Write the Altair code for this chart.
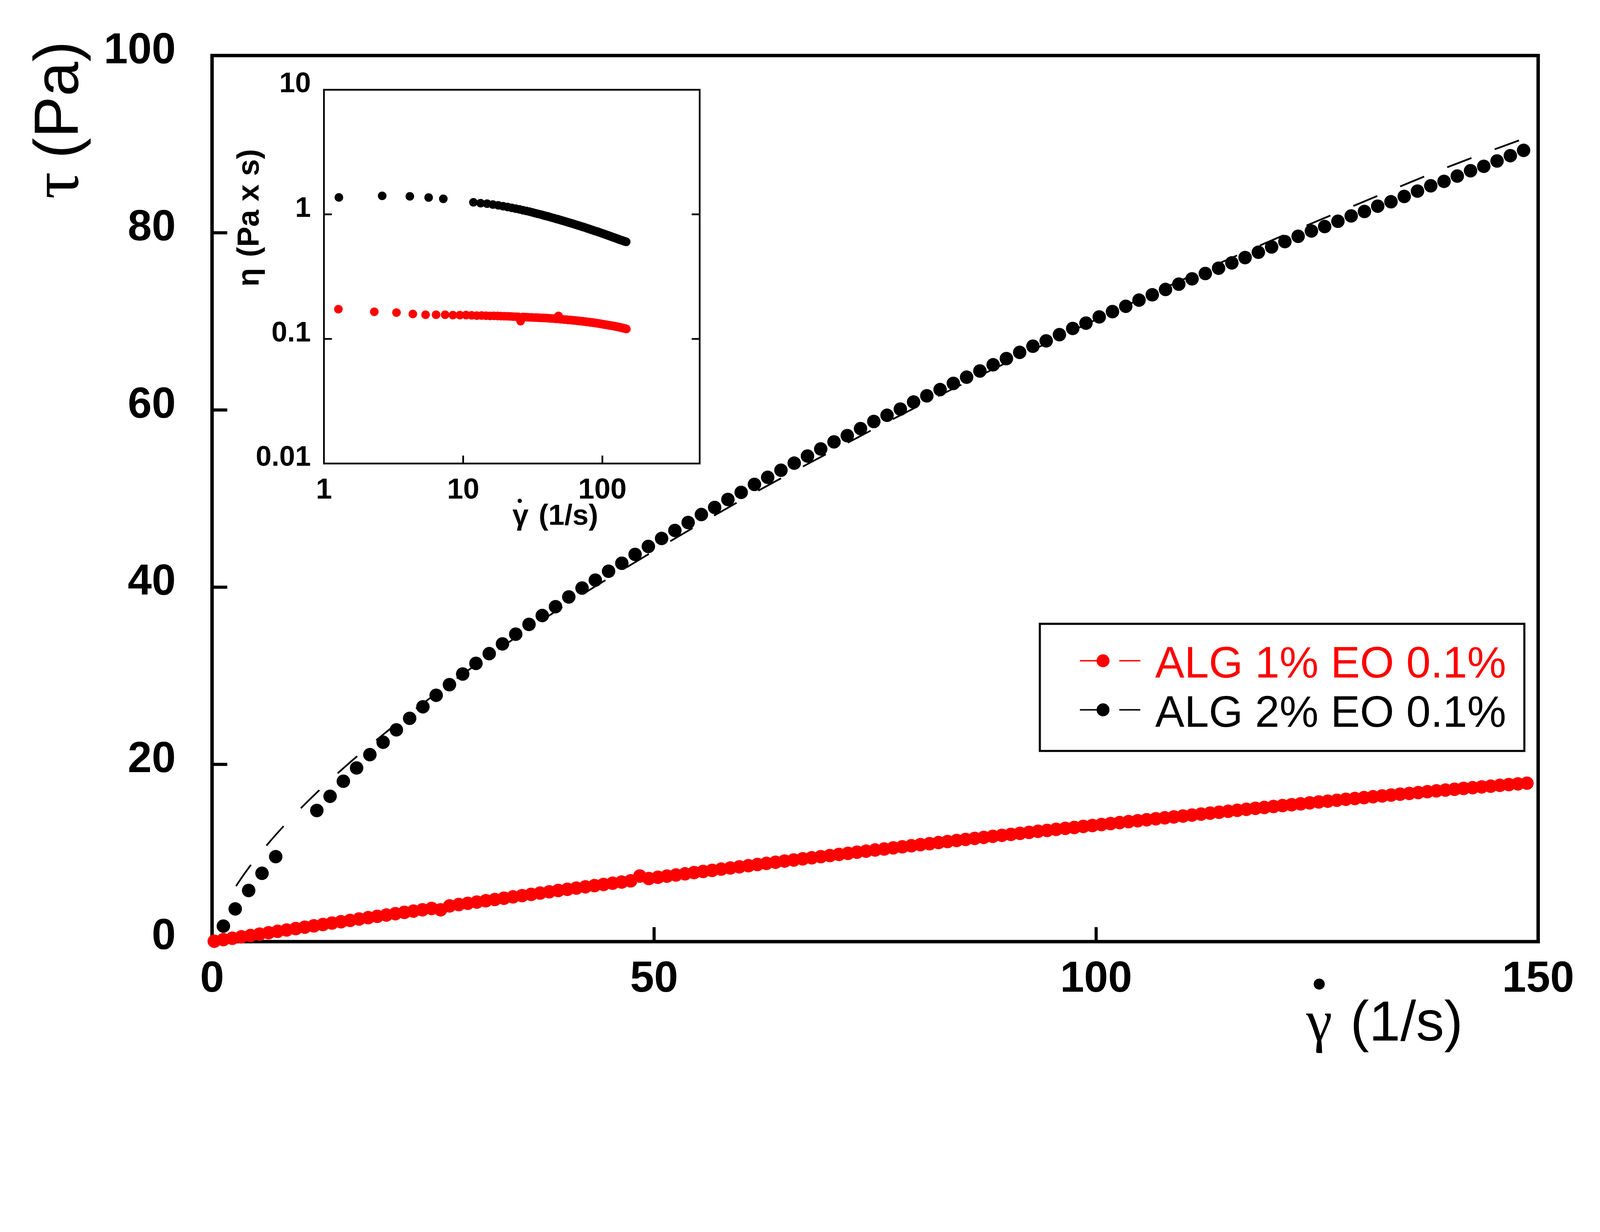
import altair as alt
import pandas as pd

# ---------------- data ----------------
black_rate = [1.28, 2.62, 4.14, 5.65, 7.20,
              11.85, 13.35, 14.85, 16.35, 17.85, 19.35, 20.85, 22.35, 23.85, 25.35, 26.85, 28.35, 29.85,
              31.35, 32.85, 34.35, 35.85, 37.35, 38.85, 40.35, 41.85, 43.35, 44.85,
              46.35, 47.85, 49.35, 50.85, 52.35, 53.85, 55.35, 56.85, 58.35, 59.85,
              61.35, 62.85, 64.35, 65.85, 67.35, 68.85, 70.35, 71.85, 73.35, 74.85,
              76.35, 77.85, 79.35, 80.85, 82.35, 83.85, 85.35, 86.85, 88.35, 89.85,
              91.35, 92.85, 94.35, 95.85, 97.35, 98.85, 100.35, 101.85, 103.35, 104.85,
              106.35, 107.85, 109.35, 110.85, 112.35, 113.85, 115.35, 116.85, 118.35, 119.85,
              121.35, 122.85, 124.35, 125.85, 127.35, 128.85, 130.35, 131.85, 133.35, 134.85,
              136.35, 137.85, 139.35, 140.85, 142.35, 143.85, 145.35, 146.85, 148.35]
black_stress = [1.75, 3.69, 5.77, 7.71, 9.59,
                14.8, 16.4, 18.1, 19.6, 21.1, 22.5, 23.9, 25.2, 26.5, 27.8, 29.0, 30.2, 31.4,
                32.5, 33.6, 34.7, 35.8, 36.8, 37.8, 38.9, 39.9, 40.8, 41.8,
                42.7, 43.7, 44.6, 45.5, 46.4, 47.3, 48.2, 49.0, 49.9, 50.7,
                51.6, 52.4, 53.2, 54.0, 54.8, 55.6, 56.4, 57.1, 57.9, 58.7,
                59.4, 60.1, 60.9, 61.6, 62.3, 63.0, 63.7, 64.4, 65.1, 65.8,
                66.5, 67.2, 67.8, 68.5, 69.2, 69.8, 70.5, 71.1, 71.7, 72.4,
                73.0, 73.6, 74.2, 74.8, 75.4, 76.0, 76.6, 77.2, 77.8, 78.4,
                79.0, 79.6, 80.2, 80.7, 81.3, 81.9, 82.4, 83.0, 83.5, 84.1,
                84.7, 85.3, 85.8, 86.4, 87.0, 87.5, 88.1, 88.7, 89.3]

fit_rate = [1.3, 2, 3, 4, 5, 6, 8, 10, 12.5, 15, 20, 25, 30, 40, 50, 60, 70, 80, 90, 100,
            110, 120, 130, 140, 150]
fit_stress = [3.83, 5.11, 6.70, 8.13, 9.44, 10.66, 12.93, 15.01, 17.44, 19.70, 23.89, 27.74,
              31.35, 38.0, 44.1, 49.9, 55.3, 60.5, 65.4, 70.2, 74.8, 79.2, 83.4, 87.5, 91.2]

red_rate = [0.25, 1.27, 2.30, 3.32, 4.35, 5.37, 6.39, 7.42, 8.44, 9.47,
            10.49, 11.51, 12.54, 13.56, 14.59, 15.61, 16.63, 17.66, 18.68, 19.71,
            20.73, 21.75, 22.78, 23.80, 24.83, 25.85, 26.87, 27.90, 28.92, 29.95,
            30.97, 31.99, 33.02, 34.04, 35.07, 36.09, 37.11, 38.14, 39.16, 40.19,
            41.21, 42.23, 43.26, 44.28, 45.31, 46.33, 47.35, 48.38, 49.40, 50.43,
            51.45, 52.47, 53.50, 54.52, 55.55, 56.57, 57.59, 58.62, 59.64, 60.67,
            61.69, 62.71, 63.74, 64.76, 65.79, 66.81, 67.83, 68.86, 69.88, 70.91,
            71.93, 72.95, 73.98, 75.00, 76.03, 77.05, 78.07, 79.10, 80.12, 81.15,
            82.17, 83.19, 84.22, 85.24, 86.27, 87.29, 88.31, 89.34, 90.36, 91.39,
            92.41, 93.43, 94.46, 95.48, 96.51, 97.53, 98.55, 99.58, 100.60, 101.63,
            102.65, 103.67, 104.70, 105.72, 106.75, 107.77, 108.79, 109.82, 110.84, 111.87,
            112.89, 113.91, 114.94, 115.96, 116.99, 118.01, 119.03, 120.06, 121.08, 122.11,
            123.13, 124.15, 125.18, 126.20, 127.23, 128.25, 129.27, 130.30, 131.32, 132.35,
            133.37, 134.39, 135.42, 136.44, 137.47, 138.49, 139.51, 140.54, 141.56, 142.59,
            143.61, 144.63, 145.66, 146.68, 147.71, 148.73]
red_stress = [0.04, 0.22, 0.38, 0.54, 0.69, 0.84, 1.00, 1.16, 1.31, 1.47,
              1.63, 1.78, 1.93, 2.09, 2.24, 2.39, 2.55, 2.70, 2.85, 3.00,
              3.15, 3.30, 3.44, 3.59, 3.74, 3.59, 4.03, 4.18, 4.32, 4.46,
              4.61, 4.75, 4.90, 5.05, 5.19, 5.33, 5.48, 5.62, 5.77, 5.90,
              6.04, 6.18, 6.32, 6.45, 6.59, 6.72, 6.86, 7.40, 7.12, 7.26,
              7.39, 7.52, 7.65, 7.79, 7.92, 8.04, 8.18, 8.31, 8.44, 8.57,
              8.70, 8.83, 8.96, 9.09, 9.21, 9.34, 9.46, 9.59, 9.71, 9.84,
              9.96, 10.09, 10.21, 10.34, 10.45, 10.58, 10.70, 10.82, 10.94, 11.05,
              11.18, 11.29, 11.41, 11.53, 11.65, 11.76, 11.88, 11.99, 12.10, 12.22,
              12.33, 12.45, 12.55, 12.67, 12.78, 12.88, 13.00, 13.10, 13.21, 13.32,
              13.43, 13.54, 13.64, 13.75, 13.86, 13.97, 14.07, 14.17, 14.28, 14.39,
              14.50, 14.60, 14.71, 14.82, 14.93, 15.04, 15.14, 15.25, 15.35, 15.45,
              15.55, 15.66, 15.76, 15.85, 15.95, 16.06, 16.15, 16.25, 16.35, 16.44,
              16.54, 16.64, 16.72, 16.82, 16.92, 17.01, 17.10, 17.19, 17.29, 17.37,
              17.46, 17.54, 17.64, 17.72, 17.80, 17.88]

series_names = ["ALG 1% EO 0.1%", "ALG 2% EO 0.1%"]
series_colors = ["#ff0000", "#000000"]

main_x_ticks = [50, 100]
main_y_ticks = [20, 40, 60, 80]
main_x_labels = [0, 50, 100, 150]
main_y_labels = [0, 20, 40, 60, 80, 100]
inset_x_ticks = [10, 100]
inset_y_ticks = [0.1, 1]
inset_x_labels = [1, 10, 100]
inset_y_labels = [0.01, 0.1, 1, 10]
inset_y_label_text = ["0.01", "0.1", "1", "10"]

# ---------------- layout (pixels) ----------------
W, H = 3840, 2565
IX0, IX1, IY0, IY1 = 324, 1412, 99, 1181
SANS = "Liberation Sans"
SERIF = "Liberation Serif"
MAIN_SIZE = 1520
INSET_SIZE = 620
LEGEND_SIZE = 1400

mx = alt.Scale(domain=[0, 150], range=[0, W], nice=False, zero=False)
my = alt.Scale(domain=[0, 100], range=[H, 0], nice=False, zero=False)
ix = alt.Scale(type="log", domain=[1, 500], range=[IX0, IX1], nice=False)
iy = alt.Scale(type="log", domain=[0.01, 10], range=[IY1, IY0], nice=False)

black = pd.DataFrame({"rate": black_rate, "stress": black_stress})
red = pd.DataFrame({"rate": red_rate, "stress": red_stress})
fit = pd.DataFrame({"rate": fit_rate, "stress": fit_stress})
black_in = black.assign(eta=black["stress"] / black["rate"])
black_in = black_in[black_in["rate"] >= 1]
red_in = red.assign(eta=red["stress"] / red["rate"])
red_in = red_in[red_in["rate"] >= 1]
one = pd.DataFrame({"a": [0]})


def X(f, s):
    return alt.X(f, scale=s, axis=None)


def Y(f, s):
    return alt.Y(f, scale=s, axis=None)


layers = []
# main data
layers.append(alt.Chart(red).mark_line(color="#ff0000", strokeWidth=4).encode(
    x=X("rate:Q", mx), y=Y("stress:Q", my)))
layers.append(alt.Chart(fit).mark_line(color="black", strokeWidth=5, strokeDash=[75, 72],
                                       strokeDashOffset=75, interpolate="monotone").encode(
    x=X("rate:Q", mx), y=Y("stress:Q", my)))
layers.append(alt.Chart(black).mark_circle(size=MAIN_SIZE, color="black", opacity=1).encode(
    x=X("rate:Q", mx), y=Y("stress:Q", my)))
layers.append(alt.Chart(red).mark_circle(size=MAIN_SIZE, color="#ff0000", opacity=1).encode(
    x=X("rate:Q", mx), y=Y("stress:Q", my)))

# main ticks (inward)
layers.append(alt.Chart(pd.DataFrame({"v": main_y_ticks})).mark_rule(color="black", strokeWidth=9).encode(
    y=Y("v:Q", my), x=alt.value(0), x2=alt.value(44)))
layers.append(alt.Chart(pd.DataFrame({"v": main_x_ticks})).mark_rule(color="black", strokeWidth=9).encode(
    x=X("v:Q", mx), y=alt.value(H), y2=alt.value(H - 42)))

# main tick labels
layers.append(alt.Chart(pd.DataFrame({"v": main_y_labels, "t": [str(v) for v in main_y_labels]})).mark_text(
    font=SANS, fontWeight="bold", fontSize=125, align="right", baseline="alphabetic", dy=22, color="black").encode(
    y=Y("v:Q", my), x=alt.value(-105), text="t:N"))
layers.append(alt.Chart(pd.DataFrame({"v": main_x_labels, "t": [str(v) for v in main_x_labels]})).mark_text(
    font=SANS, fontWeight="bold", fontSize=125, align="center", baseline="alphabetic", color="black").encode(
    x=X("v:Q", mx), y=alt.value(2710), text="t:N"))

# main axis titles
layers.append(alt.Chart(one).mark_text(text="τ", font=SERIF, fontSize=195, angle=270, align="center",
                                       baseline="alphabetic", color="black").encode(
    x=alt.value(-389), y=alt.value(376)))
layers.append(alt.Chart(one).mark_text(text="(Pa)", font=SANS, fontSize=180, angle=270, align="center",
                                       baseline="alphabetic", color="black").encode(
    x=alt.value(-389), y=alt.value(128)))
layers.append(alt.Chart(one).mark_text(text="γ", font=SERIF, fontSize=170, align="center",
                                       baseline="alphabetic", color="black").encode(
    x=alt.value(3206), y=alt.value(2851)))
layers.append(alt.Chart(one).mark_circle(size=1018, color="black", opacity=1).encode(
    x=alt.value(3206), y=alt.value(2688)))
layers.append(alt.Chart(one).mark_text(text="(1/s)", font=SANS, fontSize=163, align="center",
                                       baseline="alphabetic", color="black").encode(
    x=alt.value(3459), y=alt.value(2851)))

# inset frame and ticks
layers.append(alt.Chart(pd.DataFrame({"x": [1], "x2": [500], "y": [0.01], "y2": [10]})).mark_rect(
    fill="white", fillOpacity=0, stroke="black", strokeWidth=5).encode(
    x=X("x:Q", ix), x2="x2:Q", y=Y("y:Q", iy), y2="y2:Q"))
layers.append(alt.Chart(pd.DataFrame({"v": inset_x_ticks})).mark_rule(color="black", strokeWidth=5).encode(
    x=X("v:Q", ix), y=alt.value(IY1), y2=alt.value(IY1 - 23)))
layers.append(alt.Chart(pd.DataFrame({"v": inset_y_ticks})).mark_rule(color="black", strokeWidth=5).encode(
    y=Y("v:Q", iy), x=alt.value(IX0), x2=alt.value(IX0 + 23)))
layers.append(alt.Chart(pd.DataFrame({"v": inset_y_ticks})).mark_rule(color="black", strokeWidth=5).encode(
    y=Y("v:Q", iy), x=alt.value(IX1), x2=alt.value(IX1 - 23)))
# inset data
layers.append(alt.Chart(black_in).mark_circle(size=INSET_SIZE, color="black", opacity=1).encode(
    x=X("rate:Q", ix), y=Y("eta:Q", iy)))
layers.append(alt.Chart(red_in).mark_circle(size=INSET_SIZE, color="#ff0000", opacity=1).encode(
    x=X("rate:Q", ix), y=Y("eta:Q", iy)))
# inset labels
layers.append(alt.Chart(pd.DataFrame({"v": inset_y_labels, "t": inset_y_label_text})).mark_text(
    font=SANS, fontWeight="bold", fontSize=82, align="right", baseline="alphabetic", dy=7, color="black").encode(
    y=Y("v:Q", iy), x=alt.value(286), text="t:N"))
layers.append(alt.Chart(pd.DataFrame({"v": inset_x_labels, "t": [str(v) for v in inset_x_labels]})).mark_text(
    font=SANS, fontWeight="bold", fontSize=84, align="center", baseline="alphabetic", color="black").encode(
    x=X("v:Q", ix), y=alt.value(1282), text="t:N"))
layers.append(alt.Chart(one).mark_text(text="γ", font=SANS, fontWeight="bold", fontSize=84, align="center",
                                       baseline="alphabetic", color="black").encode(
    x=alt.value(893), y=alt.value(1358)))
layers.append(alt.Chart(one).mark_circle(size=154, color="black", opacity=1).encode(
    x=alt.value(891), y=alt.value(1289)))
layers.append(alt.Chart(one).mark_text(text="(1/s)", font=SANS, fontWeight="bold", fontSize=84, align="center",
                                       baseline="alphabetic", color="black").encode(
    x=alt.value(1032), y=alt.value(1358)))
layers.append(alt.Chart(one).mark_text(text="η", font=SANS, fontWeight="bold", fontSize=88, angle=270,
                                       align="center", baseline="alphabetic", color="black").encode(
    x=alt.value(135), y=alt.value(642)))
layers.append(alt.Chart(one).mark_text(text="(Pa x s)", font=SANS, fontWeight="bold", fontSize=88, angle=270,
                                       align="center", baseline="alphabetic", color="black").encode(
    x=alt.value(135), y=alt.value(427)))

# legend
layers.append(alt.Chart(one).mark_rect(fill="white", stroke="black", strokeWidth=6).encode(
    x=alt.value(2397), x2=alt.value(3800), y=alt.value(1645), y2=alt.value(2013)))
leg = pd.DataFrame({"row": [0, 1], "name": series_names, "col": series_colors})
ly = alt.Y("row:Q", scale=alt.Scale(domain=[0, 1], range=[1752, 1894]), axis=None)
layers.append(alt.Chart(leg).mark_rule(strokeWidth=4).encode(
    y=ly, x=alt.value(2513), x2=alt.value(2598), color=alt.Color("col:N", scale=None)))
layers.append(alt.Chart(leg).mark_rule(strokeWidth=4).encode(
    y=ly, x=alt.value(2627), x2=alt.value(2688), color=alt.Color("col:N", scale=None)))
layers.append(alt.Chart(leg).mark_circle(size=LEGEND_SIZE, opacity=1).encode(
    y=ly, x=alt.value(2580), color=alt.Color("col:N", scale=None)))
layers.append(alt.Chart(leg).mark_text(font=SANS, fontSize=127, align="left", baseline="alphabetic", dy=49).encode(
    y=ly, x=alt.value(2731), text="name:N", color=alt.Color("col:N", scale=None)))

chart = alt.layer(*layers).resolve_scale(x="independent", y="independent").properties(
    width=W, height=H,
    autosize=alt.AutoSizeParams(type="none"),
    padding={"left": 605, "top": -40, "right": 170, "bottom": 400},
    background="white",
).configure_view(stroke="black", strokeWidth=10)

chart.save("out.html", embed_options={"renderer": "svg", "actions": False})
